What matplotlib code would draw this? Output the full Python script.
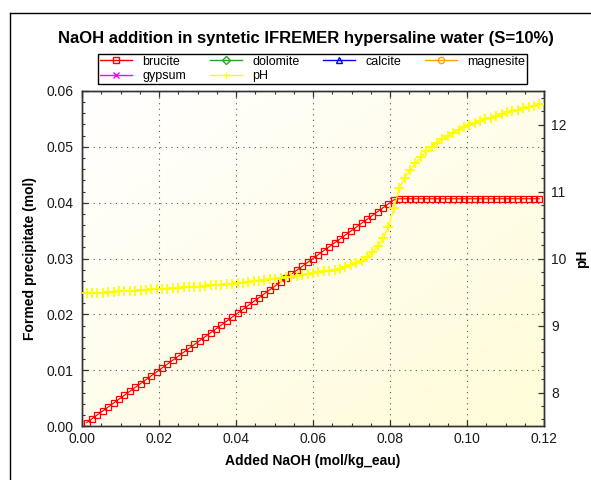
import numpy as np
import matplotlib.pyplot as plt
from matplotlib.lines import Line2D
from matplotlib.colors import LinearSegmentedColormap
from matplotlib.ticker import MultipleLocator, FormatStrFormatter

plt.rcParams['font.family'] = ['Liberation Sans', 'DejaVu Sans']

# added NaOH (mol/kg_eau) at each titration step
naoh = [0.0012, 0.0026, 0.0040, 0.0054, 0.0068, 0.0082, 0.0096, 0.0110, 0.0124, 0.0138,
        0.0152, 0.0166, 0.0180, 0.0194, 0.0208, 0.0222, 0.0236, 0.0250, 0.0264, 0.0278,
        0.0292, 0.0306, 0.0320, 0.0334, 0.0348, 0.0362, 0.0376, 0.0390, 0.0404, 0.0418,
        0.0432, 0.0446, 0.0460, 0.0474, 0.0488, 0.0502, 0.0516, 0.0530, 0.0544, 0.0558,
        0.0572, 0.0586, 0.0600, 0.0614, 0.0628, 0.0642, 0.0656, 0.0670, 0.0684, 0.0698,
        0.0712, 0.0726, 0.0740, 0.0754, 0.0768, 0.0782, 0.0796, 0.0810, 0.0824, 0.0838,
        0.0852, 0.0866, 0.0880, 0.0894, 0.0908, 0.0922, 0.0936, 0.0950, 0.0964, 0.0978,
        0.0992, 0.1006, 0.1020, 0.1034, 0.1048, 0.1062, 0.1076, 0.1090, 0.1104, 0.1118,
        0.1132, 0.1146, 0.1160, 0.1174, 0.1188]

# brucite formed (mol)
brucite = [0.0006, 0.0013, 0.0020, 0.0027, 0.0034, 0.0041, 0.0048, 0.0055, 0.0062, 0.0069,
           0.0076, 0.0083, 0.0090, 0.0097, 0.0104, 0.0111, 0.0118, 0.0125, 0.0132, 0.0139,
           0.0146, 0.0153, 0.0160, 0.0167, 0.0174, 0.0181, 0.0188, 0.0195, 0.0202, 0.0209,
           0.0216, 0.0223, 0.0230, 0.0237, 0.0244, 0.0251, 0.0258, 0.0265, 0.0272, 0.0279,
           0.0286, 0.0293, 0.0300, 0.0307, 0.0314, 0.0321, 0.0328, 0.0335, 0.0342, 0.0349,
           0.0356, 0.0363, 0.0370, 0.0377, 0.0384, 0.0391, 0.0398, 0.0405, 0.0407, 0.0407,
           0.0407, 0.0407, 0.0407, 0.0407, 0.0407, 0.0407, 0.0407, 0.0407, 0.0407, 0.0407,
           0.0407, 0.0407, 0.0407, 0.0407, 0.0407, 0.0407, 0.0407, 0.0407, 0.0407, 0.0407,
           0.0407, 0.0407, 0.0407, 0.0407, 0.0407]

ph = [9.48, 9.48, 9.49, 9.49, 9.50, 9.50, 9.51, 9.51, 9.52, 9.52,
      9.53, 9.53, 9.54, 9.54, 9.55, 9.55, 9.56, 9.56, 9.57, 9.57,
      9.58, 9.58, 9.59, 9.60, 9.60, 9.61, 9.62, 9.62, 9.63, 9.64,
      9.65, 9.66, 9.67, 9.68, 9.69, 9.70, 9.71, 9.72, 9.73, 9.74,
      9.76, 9.77, 9.78, 9.80, 9.81, 9.82, 9.83, 9.85, 9.87, 9.90,
      9.93, 9.97, 10.02, 10.09, 10.18, 10.30, 10.47, 10.75, 11.05, 11.20,
      11.32, 11.42, 11.51, 11.60, 11.67, 11.73, 11.78, 11.83, 11.88, 11.92,
      11.96, 11.99, 12.02, 12.05, 12.08, 12.10, 12.13, 12.15, 12.18, 12.20,
      12.22, 12.24, 12.26, 12.28, 12.30]

series_names = ['brucite', 'dolomite', 'calcite', 'magnesite', 'gypsum', 'pH']
series_colors = ['#ff0000', '#2ca02c', '#0000ff', '#ffa500', '#ff00ff', '#ffff00']
series_markers = ['s', 'D', '^', 'o', 'x', '+']

text_col = '#1a1a1a'

fig = plt.figure(figsize=(5.91, 4.8), dpi=100)
ax = fig.add_axes([82 / 591, 1 - 426 / 480, 462 / 591, 335 / 480])
ax2 = ax.twinx()

# soft white -> pale yellow background
cmap = LinearSegmentedColormap.from_list('bg', ['#ffffff', '#fffcd8'])
yy, xx = np.mgrid[0:1:100j, 0:1:100j]
grad = (xx + yy) / 2
ax.imshow(grad, cmap=cmap, extent=[0, 0.12, 0, 0.06], origin='upper',
          aspect='auto', zorder=0, vmin=0, vmax=1)

ax.plot(naoh, brucite, color='#ff0000', lw=0.8, marker='s', ms=4.8,
        mfc='none', mec='#ff0000', mew=0.9, zorder=3)
ax2.plot(naoh, ph, color='#ffff00', lw=1.0, marker='+', ms=7,
         mew=1.3, zorder=3)

ax.set_xlim(0, 0.12)
ax.set_ylim(0, 0.06)
ax2.set_ylim(7.5, 12.5)

ax.xaxis.set_major_locator(MultipleLocator(0.02))
ax.xaxis.set_minor_locator(MultipleLocator(0.005))
ax.yaxis.set_major_locator(MultipleLocator(0.01))
ax.yaxis.set_minor_locator(MultipleLocator(0.002))
ax.xaxis.set_major_formatter(FormatStrFormatter('%.2f'))
ax.yaxis.set_major_formatter(FormatStrFormatter('%.2f'))
ax2.yaxis.set_major_locator(MultipleLocator(1))
ax2.yaxis.set_minor_locator(MultipleLocator(0.2))

ax.tick_params(axis='both', which='both', direction='in', colors='#333333',
               labelcolor=text_col, labelsize=10)
ax.tick_params(axis='x', which='both', top=True)
ax.tick_params(axis='x', which='major', pad=4)
ax.tick_params(axis='y', which='major', pad=6)
ax.tick_params(which='major', length=4, width=0.9)
ax.tick_params(which='minor', length=2.3, width=0.8)
ax2.tick_params(axis='y', which='both', direction='in', colors='#333333',
                labelcolor=text_col, labelsize=10, pad=5)
ax2.tick_params(which='major', length=4, width=0.9)
ax2.tick_params(which='minor', length=2.3, width=0.8)

ax.grid(True, which='major', color='#555555', linestyle=(0, (1, 4)), lw=0.8)
ax.set_axisbelow(False)
ax.patch.set_visible(False)
ax2.patch.set_visible(False)
ax.set_zorder(1)
ax2.set_zorder(2)

for a in (ax, ax2):
    for sp in a.spines.values():
        sp.set_color('#333333')
        sp.set_linewidth(1.0)

ax.set_xlabel('Added NaOH (mol/kg_eau)', fontsize=10, fontweight='bold', labelpad=6)
fig.text(30 / 591, 1 - 258 / 480, 'Formed precipitate (mol)', rotation=90,
         ha='center', va='center', fontsize=10, fontweight='bold')
fig.text(582 / 591, 1 - 259 / 480, 'pH', rotation=90,
         ha='center', va='center', fontsize=10, fontweight='bold')

fig.text(306 / 591, 1 - 39 / 480,
         'NaOH addition in syntetic IFREMER hypersaline water (S=10%)',
         ha='center', va='center', fontsize=12, fontweight='bold')

handles = [Line2D([], [], color=c, marker=m, ms=4.5, mfc='none', mec=c, lw=1.0)
           for c, m in zip(series_colors, series_markers)]
handles = [handles[0], handles[4], handles[1], handles[5],
           handles[2], Line2D([], [], lw=0), handles[3], Line2D([], [], lw=0)]
labels = ['brucite', 'gypsum', 'dolomite', 'pH', 'calcite', '', 'magnesite', '']
leg = fig.legend(handles, labels, ncol=4, loc='lower left',
                 bbox_to_anchor=(98 / 591, 1 - 84 / 480, 429 / 591, 30 / 480),
                 mode='expand', fontsize=9, frameon=True, fancybox=False,
                 edgecolor='black', framealpha=1, handlelength=2.6,
                 handletextpad=0.8, borderpad=0.15, labelspacing=0.2,
                 borderaxespad=0)
leg.get_frame().set_linewidth(1.0)

# outer frame
fig.add_artist(Line2D([10 / 591, 10 / 591], [0, 1 - 13 / 480], color='black', lw=1.0))
fig.add_artist(Line2D([10 / 591, 1], [1 - 13 / 480, 1 - 13 / 480], color='black', lw=1.0))

fig.savefig('out.png', dpi=100)
